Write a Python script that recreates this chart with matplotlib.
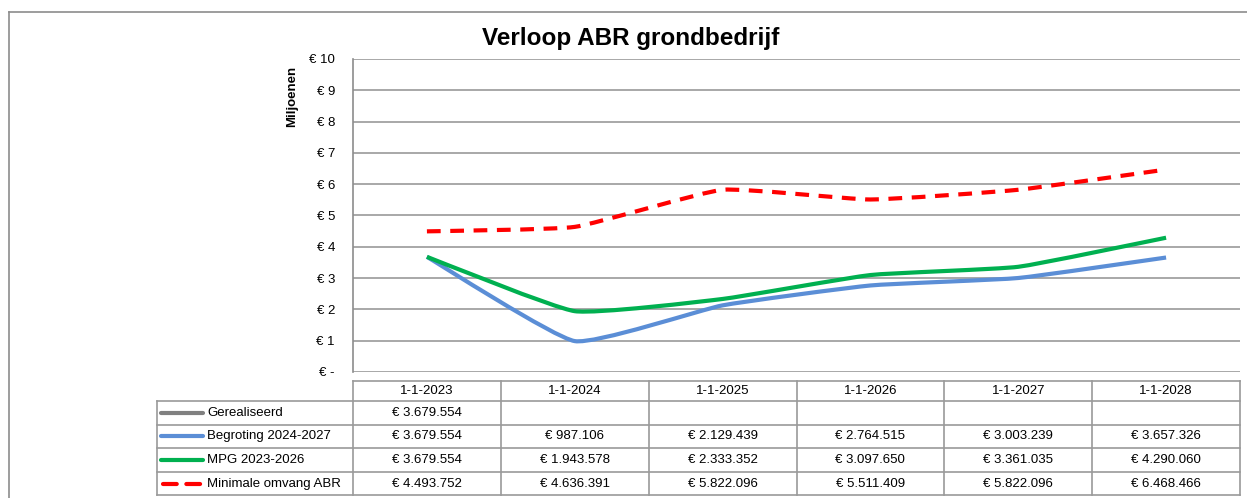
import matplotlib
matplotlib.use("Agg")
import matplotlib.pyplot as plt
import numpy as np
from matplotlib.path import Path
from matplotlib.patches import PathPatch
from matplotlib.lines import Line2D

# ---------------- data ----------------
categories = ["1-1-2023", "1-1-2024", "1-1-2025", "1-1-2026", "1-1-2027", "1-1-2028"]
series_names = ["Gerealiseerd", "Begroting 2024-2027", "MPG 2023-2026", "Minimale omvang ABR"]
gerealiseerd = [3679554, None, None, None, None, None]
begroting = [3679554, 987106, 2129439, 2764515, 3003239, 3657326]
mpg = [3679554, 1943578, 2333352, 3097650, 3361035, 4290060]
minimale = [4493752, 4636391, 5822096, 5511409, 5822096, 6468466]
yticks = [0, 1, 2, 3, 4, 5, 6, 7, 8, 9, 10]
ytick_labels = ["€ -", "€ 1", "€ 2", "€ 3", "€ 4", "€ 5", "€ 6", "€ 7", "€ 8", "€ 9", "€ 10"]
title = "Verloop ABR grondbedrijf"
ylabel = "Miljoenen"

colors = ["#808080", "#5b8ed6", "#00b050", "#ff0000"]
styles = ["-", "-", "-", "--"]

W, H = 1247, 498
fig = plt.figure(figsize=(W / 100, H / 100), dpi=100)
FONT = "Liberation Sans"


def fx(px):
    return px / W


def fy(py):
    return 1 - py / H


# plot area in pixels
L, R, T, B = 353, 1240, 59, 372
ax = fig.add_axes([fx(L), fy(B), fx(R - L), (B - T) / H])
ax.set_xlim(-0.5, len(categories) - 0.5)
ax.set_ylim(0, 10)
ax.set_yticks(yticks)
ax.set_yticklabels(ytick_labels, fontsize=9.5, family=FONT)
ax.set_xticks([])
ax.tick_params(axis="y", length=0, pad=13)
for s in ["top", "right", "bottom"]:
    ax.spines[s].set_visible(False)
ax.spines["left"].set_color("#8c8c8c")
ax.spines["left"].set_linewidth(1.2)
ax.grid(axis="y", color="#9a9a9a", linewidth=1.2)
ax.set_axisbelow(True)


def smooth_path(xs, ys, k=0.07):
    pts = np.column_stack([xs, ys]).astype(float)
    n = len(pts)
    verts = [pts[0]]
    codes = [Path.MOVETO]
    for i in range(n - 1):
        p0 = pts[i - 1] if i > 0 else pts[i]
        p1 = pts[i]
        p2 = pts[i + 1]
        p3 = pts[i + 2] if i + 2 < n else pts[i + 1]
        c1 = p1 + (p2 - p0) * k
        c2 = p2 - (p3 - p1) * k
        verts += [c1, c2, p2]
        codes += [Path.CURVE4] * 3
    return Path(verts, codes)


all_series = [gerealiseerd, begroting, mpg, minimale]
for vals, c, ls in zip(all_series, colors, styles):
    xs = [i for i, v in enumerate(vals) if v is not None]
    ys = [v / 1e6 for v in vals if v is not None]
    if len(xs) < 2:
        ax.plot(xs, ys, color=c, lw=3)
        continue
    patch = PathPatch(smooth_path(xs, ys), facecolor="none", edgecolor=c, lw=3,
                      linestyle=ls, capstyle="butt", joinstyle="round")
    if ls == "--":
        patch.set_linestyle((0, (3.3, 2.3)))
    ax.add_patch(patch)

# title and y label
fig.text(fx(631), fy(39), title, ha="center", va="center", fontsize=17.5,
         fontweight="bold", family=FONT)
fig.text(fx(292), fy(96), ylabel, ha="center", va="center", rotation=90,
         fontsize=9.5, fontweight="bold", family=FONT)

# outer chart frame
frame_c = "#8c8c8c"
fig.add_artist(Line2D([fx(9), fx(9)], [fy(H), fy(12)], color=frame_c, lw=1.2))
fig.add_artist(Line2D([fx(9), fx(W)], [fy(12), fy(12)], color=frame_c, lw=1.2))

# data table
colw = (R - L) / len(categories)
col_edges = [L + i * colw for i in range(len(categories) + 1)]
row_edges = [381, 400.7, 424.5, 448, 472, 495]
leg_left = 157
tc = "#9a9a9a"
tlw = 1.2


def hline(y, x0, x1):
    fig.add_artist(Line2D([fx(x0), fx(x1)], [fy(y), fy(y)], color=tc, lw=tlw))


def vline(x, y0, y1):
    fig.add_artist(Line2D([fx(x), fx(x)], [fy(y0), fy(y1)], color=tc, lw=tlw))


hline(row_edges[0], L, R)
for y in row_edges[1:]:
    hline(y, leg_left, R)
for x in col_edges:
    vline(x, row_edges[0], row_edges[-1])
vline(leg_left, row_edges[1], row_edges[-1])

for i, cat in enumerate(categories):
    cx = (col_edges[i] + col_edges[i + 1]) / 2
    fig.text(fx(cx), fy((row_edges[0] + row_edges[1]) / 2), cat, ha="center",
             va="center", fontsize=9.5, family=FONT)


def fmt(v):
    return "€ " + f"{v:,}".replace(",", ".")


for r, (name, vals, c, ls) in enumerate(zip(series_names, all_series, colors, styles)):
    yc = (row_edges[r + 1] + row_edges[r + 2]) / 2
    ln = Line2D([fx(161), fx(203)], [fy(yc), fy(yc)], color=c, lw=3,
                solid_capstyle="round")
    if ls == "--":
        ln.set_linestyle((0, (3.3, 2.3)))
        ln.set_dash_capstyle("round")
        ln.set_xdata([fx(163), fx(203)])
    fig.add_artist(ln)
    fig.text(fx(207), fy(yc), name, ha="left", va="center", fontsize=9.5, family=FONT)
    for i, v in enumerate(vals):
        if v is None:
            continue
        cx = (col_edges[i] + col_edges[i + 1]) / 2
        fig.text(fx(cx), fy(yc), fmt(v), ha="center", va="center", fontsize=9.5,
                 family=FONT)

fig.savefig("out.png", dpi=100)
